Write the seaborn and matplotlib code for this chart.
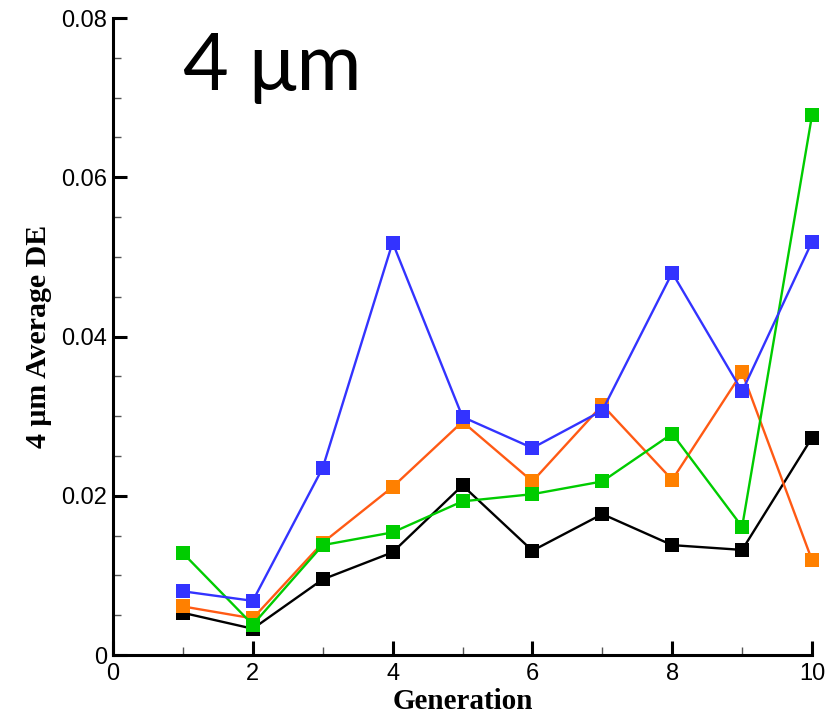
import matplotlib
matplotlib.use("Agg")
import matplotlib.pyplot as plt
from matplotlib.ticker import MultipleLocator, FixedLocator
import numpy as np
import pandas as pd
import seaborn as sns

generation = [1, 2, 3, 4, 5, 6, 7, 8, 9, 10]
black_de = [0.0053, 0.0033, 0.0095, 0.0129, 0.0213, 0.0131, 0.0177, 0.0138, 0.0132, 0.0273]
orange_de = [0.0061, 0.0046, 0.0141, 0.0211, 0.0293, 0.0218, 0.0314, 0.0220, 0.0355, 0.0119]
green_de = [0.0128, 0.0038, 0.0138, 0.0154, 0.0193, 0.0202, 0.0218, 0.0278, 0.0161, 0.0678]
blue_de = [0.0080, 0.0068, 0.0235, 0.0518, 0.0299, 0.0260, 0.0307, 0.0480, 0.0331, 0.0519]

x_ticks = [0, 2, 4, 6, 8, 10]
y_ticks = [0, 0.02, 0.04, 0.06, 0.08]
y_tick_labels = ["0", "0.02", "0.04", "0.06", "0.08"]

# (values, line colour, marker colour) in drawing order
series = [
    (black_de, "#000000", "#000000"),
    (orange_de, "#ff5a14", "#ff8000"),
    (green_de, "#00cc00", "#00cc00"),
    (blue_de, "#3333ff", "#3333ff"),
]

sns.set_style("white")
plt.rcParams["font.family"] = ["Liberation Sans", "DejaVu Sans"]

fig = plt.figure(figsize=(8.35, 7.15), dpi=100)
ax = fig.add_axes([0.1353, 0.0839, 0.8372, 0.8909])

z = 3
for values, line_col, mark_col in series:
    df = pd.DataFrame({"Generation": generation, "DE": values})
    sns.lineplot(data=df, x="Generation", y="DE", ax=ax, color=line_col,
                 linewidth=1.7, zorder=z, clip_on=False)
    sns.scatterplot(data=df, x="Generation", y="DE", ax=ax, color=mark_col,
                    marker="s", s=108, linewidth=0, zorder=z + 0.5,
                    clip_on=False)
    z += 1

ax.set_xlim(0, 10)
ax.set_ylim(0, 0.08)
ax.xaxis.set_major_locator(FixedLocator(x_ticks))
ax.xaxis.set_minor_locator(MultipleLocator(1))
ax.yaxis.set_major_locator(FixedLocator(y_ticks))
ax.yaxis.set_minor_locator(MultipleLocator(0.005))
ax.set_yticklabels(y_tick_labels)
ax.set_xticklabels([str(t) for t in x_ticks])

for side in ("top", "right"):
    ax.spines[side].set_visible(False)
for side in ("left", "bottom"):
    ax.spines[side].set_linewidth(2.2)
    ax.spines[side].set_color("black")

ax.tick_params(which="major", direction="in", length=10, width=2.2,
               labelsize=17, colors="black", pad=4)
ax.tick_params(axis="x", which="major", pad=6)
ax.tick_params(which="minor", direction="in", length=6, width=1.0,
               color="#555555")
ax.tick_params(axis="x", which="both", bottom=True)
ax.tick_params(axis="y", which="both", left=True)

ax.set_xlabel("Generation", family=["Liberation Serif"], fontweight="bold",
              fontsize=21, labelpad=2, color="black")
ax.set_ylabel("4 μm Average DE", family=["Liberation Serif", "DejaVu Serif"],
              fontweight="bold", fontsize=21.5, labelpad=7, color="black")

fig.text(0.219, 0.874, "4 μm", family=["Lato", "DejaVu Sans"], fontsize=57,
         ha="left", va="baseline", color="black")

fig.savefig("out.png", dpi=100, facecolor="white")
